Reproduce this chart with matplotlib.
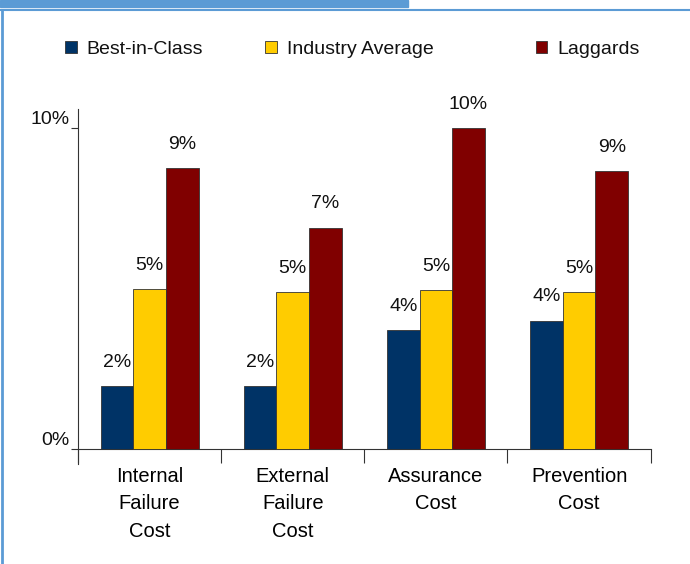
import matplotlib.pyplot as plt
from matplotlib.patches import Rectangle
import numpy as np

plt.rcParams['font.family'] = ['Liberation Sans', 'DejaVu Sans']

categorias = ['Internal\nFailure\nCost', 'External\nFailure\nCost', 'Assurance\nCost', 'Prevention\nCost']
series = ['Best-in-Class', 'Industry Average', 'Laggards']
best = [1.96, 1.96, 3.7, 4.0]
industria = [4.98, 4.9, 4.95, 4.9]
laggards = [8.75, 6.9, 10.0, 8.66]
etiq_best = ['2%', '2%', '4%', '4%']
etiq_industria = ['5%', '5%', '5%', '5%']
etiq_laggards = ['9%', '7%', '10%', '9%']

colores = ['#003366', '#ffcc00', '#800000']
azul_borde = '#5b9bd5'

fig = plt.figure(figsize=(6.9, 5.64), dpi=100)
ax = fig.add_axes([0.113, 0.178, 0.830, 0.629])

x = np.arange(len(categorias))
ancho = 0.228
valores = [best, industria, laggards]
etiquetas = [etiq_best, etiq_industria, etiq_laggards]
barras = []
for i in range(3):
	b = ax.bar(x + (i - 1) * ancho, valores[i], ancho, color=colores[i],
		edgecolor='#333333', linewidth=0.6, label=series[i], zorder=3)
	ax.bar_label(b, labels=etiquetas[i], padding=11, fontsize=14, color='#111111')
	barras.append(b)

ax.set_xlim(-0.5, len(categorias) - 0.5)
ax.set_ylim(-0.45, 10.6)

ax.spines['top'].set_visible(False)
ax.spines['right'].set_visible(False)
ax.spines['bottom'].set_position(('data', 0))
ax.spines['left'].set_color('#333333')
ax.spines['bottom'].set_color('#333333')

# ticks del eje x en los limites de categoria, nombres como ticks menores
ax.set_xticks(np.arange(-0.5, len(categorias), 1.0))
ax.set_xticklabels([])
ax.tick_params(axis='x', which='major', direction='out', length=10, color='#333333')
ax.set_xticks(x, minor=True)
ax.set_xticklabels(categorias, minor=True, fontsize=14.5, color='#000000', linespacing=1.55)
ax.tick_params(axis='x', which='minor', length=0, pad=13)

ax.set_yticks([0, 10])
ax.set_yticklabels(['0%', '10%'], fontsize=14, color='#111111')
ax.tick_params(axis='y', direction='out', length=5, color='#333333', pad=1)
for t in ax.get_yticklabels():
	t.set_verticalalignment('bottom')

# leyenda: tres entradas separadas como en el original
posiciones = [0.083, 0.373, 0.765]
for i in range(3):
	leg = fig.legend(handles=[barras[i]], labels=[series[i]], loc='center left',
		bbox_to_anchor=(posiciones[i], 0.912), frameon=False, fontsize=14,
		handlelength=0.6, handleheight=0.6, handletextpad=0.5, borderaxespad=0)
	for t in leg.get_texts():
		t.set_color('#111111')

# marco azul del documento
fig.patches.append(Rectangle((0, 0.988), 0.592, 0.012, transform=fig.transFigure,
	color=azul_borde, zorder=10))
fig.add_artist(plt.Line2D([0, 1], [0.983, 0.983], transform=fig.transFigure, color=azul_borde, lw=1.5))
fig.add_artist(plt.Line2D([0.003, 0.003], [0, 0.983], transform=fig.transFigure, color=azul_borde, lw=2))

fig.savefig('out.png', dpi=100)
